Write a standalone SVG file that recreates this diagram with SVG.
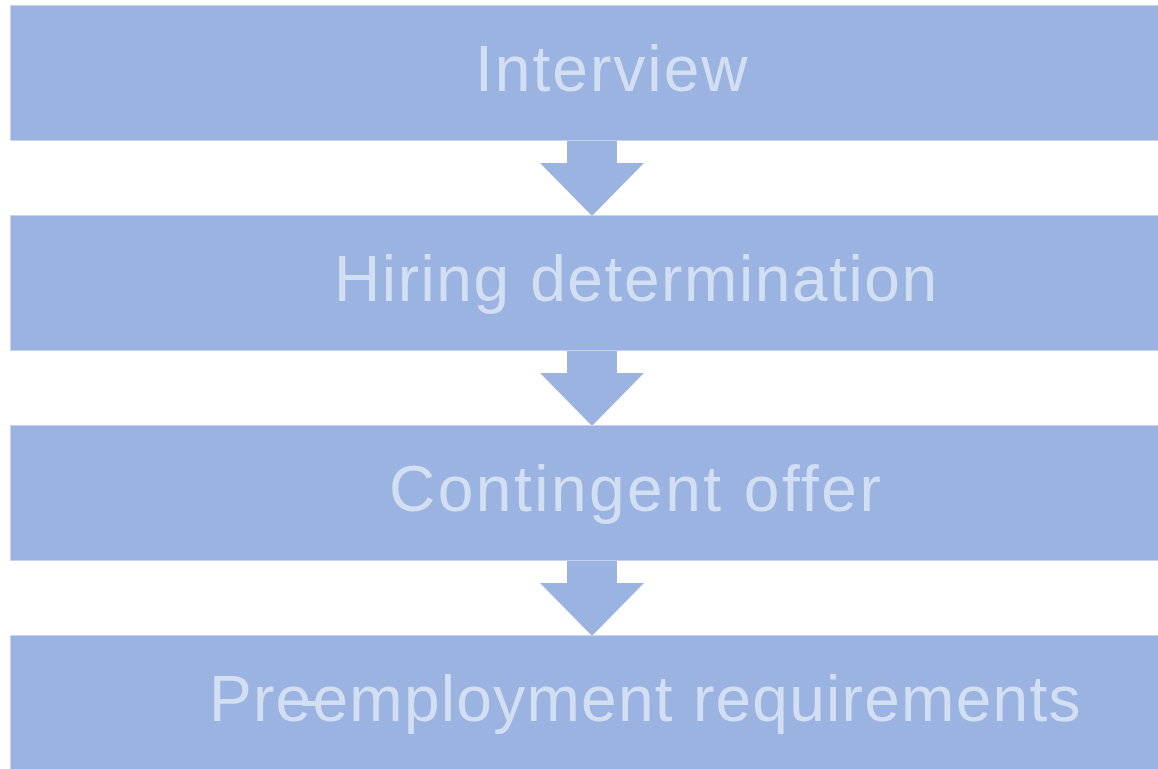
<svg xmlns="http://www.w3.org/2000/svg" width="1158" height="769" viewBox="0 0 1158 769">
<style>
.box{fill:#9AB3E0;stroke:#C5D3EE;stroke-width:1}
.lbl{font-family:"Liberation Sans",Arial,sans-serif;font-size:64px;fill:#D2DEF2;letter-spacing:1.6px}
.arr{fill:#9AB3E0}
</style>
<rect width="1158" height="769" fill="#FFFFFF"/>
<g id="connectors">
<polygon class="arr" points="567,141 617,141 617,163 644,163 592,216 540,163 567,163"/>
<polygon class="arr" points="567,351 617,351 617,373 644,373 592,426 540,373 567,373"/>
<polygon class="arr" points="567,561 617,561 617,583 644,583 592,636 540,583 567,583"/>
</g>
<g id="node1">
<rect class="box" x="10.5" y="5.5" width="1160" height="135"/>
<text class="lbl" x="475" y="91" style="letter-spacing:2.05px">Interview</text>
</g>
<g id="node2">
<rect class="box" x="10.5" y="215.5" width="1160" height="135"/>
<text class="lbl" x="334" y="301">Hiring determination</text>
</g>
<g id="node3">
<rect class="box" x="10.5" y="425.5" width="1160" height="135"/>
<text class="lbl" x="389" y="511" style="letter-spacing:2.5px">Contingent offer</text>
</g>
<g id="node4">
<rect class="box" x="10.5" y="635.5" width="1160" height="140"/>
<text class="lbl" x="209" y="721" style="letter-spacing:1.28px"><tspan>Pre</tspan><tspan dx="-13">-</tspan><tspan dx="-9.6">employment requirements</tspan></text>
</g>
</svg>
